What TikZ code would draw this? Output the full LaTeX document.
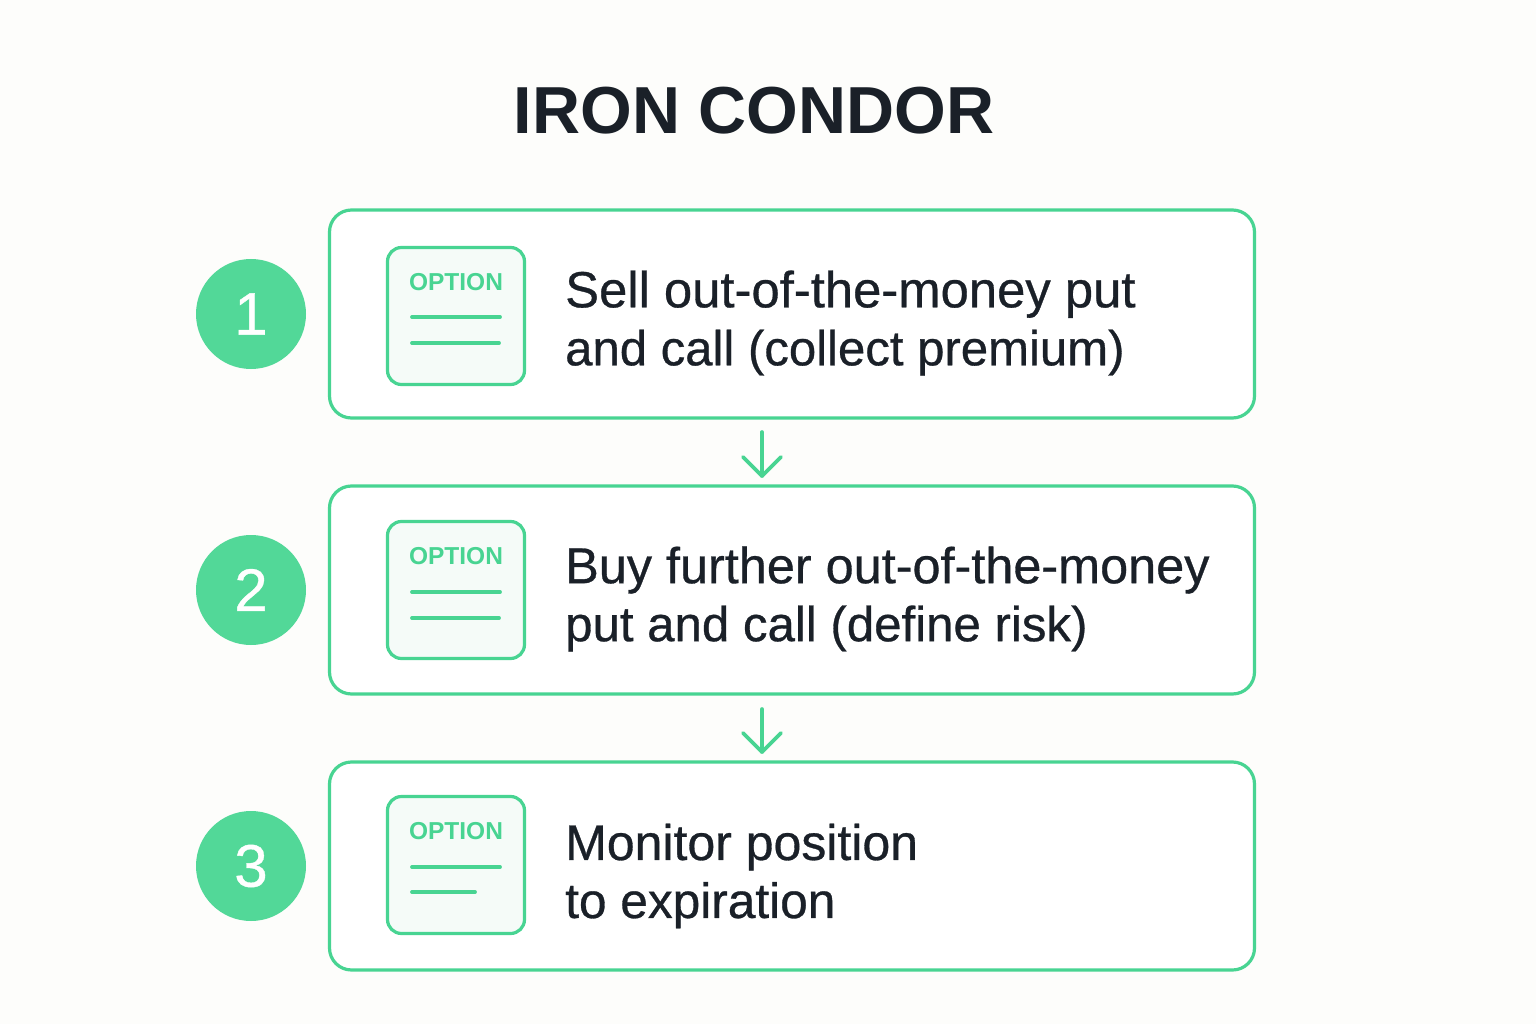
\documentclass[tikz,border=0pt]{standalone}
\usepackage{fontspec}
\setmainfont{Liberation Sans}
\newfontfamily\medfont[FakeBold=0.6]{Liberation Sans}
\newcommand{\sz}[2]{{\fontsize{#1}{58}\selectfont #2}}
\definecolor{grn}{HTML}{52D898}
\definecolor{edge}{HTML}{48D492}
\definecolor{ink}{HTML}{1A2028}
\definecolor{pale}{HTML}{F5FBF8}
\definecolor{bgc}{HTML}{FDFDFB}
\tikzset{
 x=1pt,y=-1pt,
 panel/.style={draw=edge,line width=3.2pt,rounded corners=22pt,fill=white,minimum width=925pt,minimum height=208pt,inner sep=0pt},
 icon/.style={draw=edge,line width=3.2pt,rounded corners=14pt,fill=pale,minimum width=137pt,minimum height=137pt,inner sep=0pt},
 badge/.style={circle,fill=grn,minimum size=110pt,inner sep=0pt,text=white,font=\medfont\fontsize{60}{60}\selectfont},
 lbl/.style={text=ink,font=\medfont\fontsize{50}{58}\selectfont,align=left,anchor=west,inner sep=0pt},
 opt/.style={text=edge,font=\fontsize{24.5}{25}\selectfont\bfseries,inner sep=0pt},
 rule/.style={draw=edge,line width=3.8pt,line cap=round},
 flow/.style={draw=edge,line width=3.6pt,line cap=round,line join=round},
}
\begin{document}
\begin{tikzpicture}
\path[use as bounding box,fill=bgc] (0,0) rectangle (1536,1024);
\node[text=ink,font=\fontsize{66.5}{70}\selectfont\bfseries,inner sep=0pt] (title) at (754,111) {IRON CONDOR};
\foreach \n/\y/\iy/\oy/\ty/\t in {
 1/314/316/282/323/{\sz{50.8}{Sell out-of-the-money put}\\\sz{49.1}{and call (collect premium)}},
 2/590/590/556/599/{\sz{50.4}{Buy further out-of-the-money}\\\sz{49.2}{put and call (define risk)}},
 3/866/865/831/876/{\sz{50}{Monitor position}\\\sz{49.6}{to expiration}}}{
 \node[panel] (p\n) at (792,\y) {};
 \node[badge] (b\n) at (251,\y) {\n};
 \node[icon] (i\n) at (456,\iy) {};
 \node[opt] (o\n) at (456,\oy) {OPTION};
 \node[lbl] (t\n) at (565,\ty) {\t};
}
\draw[rule] (412,317) -- (500,317);
\draw[rule] (412,343) -- (499,343);
\draw[rule] (412,592) -- (500,592);
\draw[rule] (412,618) -- (499,618);
\draw[rule] (412,867) -- (500,867);
\draw[rule] (412,892) -- (475,892);
\coordinate (s1) at (762,432);
\coordinate (e1) at (762,476);
\coordinate (s2) at (762,709);
\coordinate (e2) at (762,752);
\foreach \k in {1,2}{
 \draw[flow] (s\k) -- (e\k);
 \draw[flow] ([xshift=-19pt,yshift=19pt]e\k) -- (e\k) -- ([xshift=19pt,yshift=19pt]e\k);
}
\end{tikzpicture}
\end{document}
